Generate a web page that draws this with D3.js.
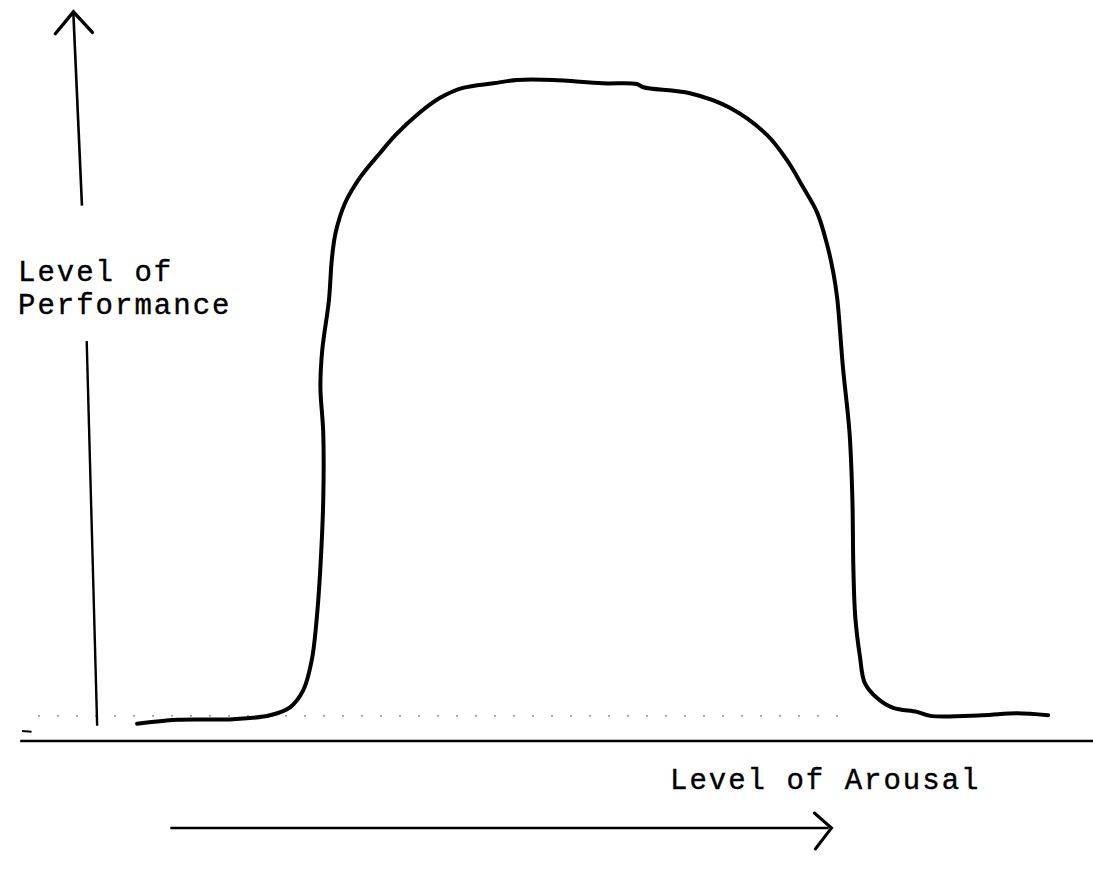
<!DOCTYPE html>
<html>
<head>
<meta charset="utf-8">
<script src="https://cdn.jsdelivr.net/npm/d3@7"></script>
<style>
  html, body { margin: 0; padding: 0; background: #fff; }
  text { font-family: "Liberation Mono", "Courier New", monospace; }
</style>
</head>
<body>
<svg id="chart" width="1093" height="881"></svg>
<script>
// Level of arousal (0-100) vs level of performance (0-100)
const arousal = [3.9, 8.1, 14.0, 17.9, 20.0, 21.4, 22.3, 22.8, 23.2, 23.5, 23.5, 23.2, 23.4, 24.1, 24.4, 24.8, 25.8, 27.4, 29.5, 31.2, 33.6, 35.8, 38.2, 41.4, 43.9, 47.7, 52.9, 56.5, 57.2, 62.1, 66.3, 70.2, 72.3, 74.0, 75.5, 76.5, 77.2, 77.6, 78.2, 78.9, 79.2, 79.3, 79.5, 80.0, 80.5, 81.8, 83.5, 86.0, 87.4, 92.9, 96.5, 99.8];
const performance = [2.6, 3.2, 3.3, 3.9, 5.1, 7.7, 12.3, 18.3, 26.3, 36.5, 46.6, 53.6, 59.2, 66.7, 72.8, 76.9, 81.4, 85.3, 89.0, 91.8, 95.0, 97.3, 98.8, 99.5, 100, 100, 99.5, 99.4, 98.9, 98.0, 95.8, 91.7, 87.9, 83.8, 79.9, 75.3, 70.8, 67.0, 56.6, 46.6, 36.5, 26.3, 18.8, 12.7, 8.8, 6.5, 5.0, 4.4, 3.8, 3.9, 4.2, 3.9];
const yLabelLines = ["Level of", "Performance"];
const xLabel = "Level of Arousal";
const baselineLevel = 3.8; // faint dotted reference level

const svg = d3.select("#chart");
const x = d3.scaleLinear().domain([0, 100]).range([100, 1050]);
const y = d3.scaleLinear().domain([0, 100]).range([741, 80]);

const ink = "#000";

// x axis base line
svg.append("line")
  .attr("x1", x(-8.4)).attr("x2", x(105))
  .attr("y1", y(0)).attr("y2", y(0))
  .attr("stroke", ink).attr("stroke-width", 2.6);

// faint dotted level line
svg.append("line")
  .attr("x1", x(-6.5)).attr("x2", x(79))
  .attr("y1", y(baselineLevel)).attr("y2", y(baselineLevel))
  .attr("stroke", "#555").attr("stroke-width", 1.4)
  .attr("stroke-dasharray", "1.5,17.5");
// small mark at left
svg.append("line")
  .attr("x1", x(-8.2)).attr("x2", x(-7.2))
  .attr("y1", y(1.5)).attr("y2", y(1.4))
  .attr("stroke", ink).attr("stroke-width", 2);

// y axis arrow (upper segment)
svg.append("path")
  .attr("d", d3.line()([[x(-2.8), y(110)], [x(-1.9), y(81)]]))
  .attr("fill", "none").attr("stroke", ink).attr("stroke-width", 2.6);
svg.append("path")
  .attr("d", d3.line()([[x(-4.7), y(107)], [x(-2.8), y(110.3)], [x(-0.8), y(107.2)]]))
  .attr("fill", "none").attr("stroke", ink).attr("stroke-width", 3.4)
  .attr("stroke-linecap", "round").attr("stroke-linejoin", "miter");
// y axis lower segment
svg.append("path")
  .attr("d", d3.line()([[x(-1.4), y(60.5)], [x(-0.3), y(2.3)]]))
  .attr("fill", "none").attr("stroke", ink).attr("stroke-width", 2.4);

// y label
yLabelLines.forEach((t, i) => {
  svg.append("text").attr("x", 18).attr("y", 281 + i * 33)
    .attr("font-size", 29).attr("letter-spacing", 2)
    .attr("fill", ink).attr("stroke", ink).attr("stroke-width", 0.4)
    .text(t);
});

// x label
svg.append("text").attr("x", 670).attr("y", 789)
  .attr("font-size", 29).attr("letter-spacing", 2)
  .attr("fill", ink).attr("stroke", ink).attr("stroke-width", 0.4)
  .text(xLabel);

// x arrow
svg.append("path")
  .attr("d", d3.line()([[x(7.4), 828], [x(76.7), 828]]))
  .attr("fill", "none").attr("stroke", ink).attr("stroke-width", 2.4);
svg.append("path")
  .attr("d", d3.line()([[x(75.2), 813], [x(77), 828], [x(75.3), 849]]))
  .attr("fill", "none").attr("stroke", ink).attr("stroke-width", 3)
  .attr("stroke-linecap", "round");

// performance curve
const pts = arousal.map((a, i) => [x(a), y(performance[i])]);
svg.append("path")
  .attr("d", d3.line().curve(d3.curveCatmullRom.alpha(0.5))(pts))
  .attr("fill", "none").attr("stroke", ink).attr("stroke-width", 4)
  .attr("stroke-linecap", "round").attr("stroke-linejoin", "round");
</script>
</body>
</html>
